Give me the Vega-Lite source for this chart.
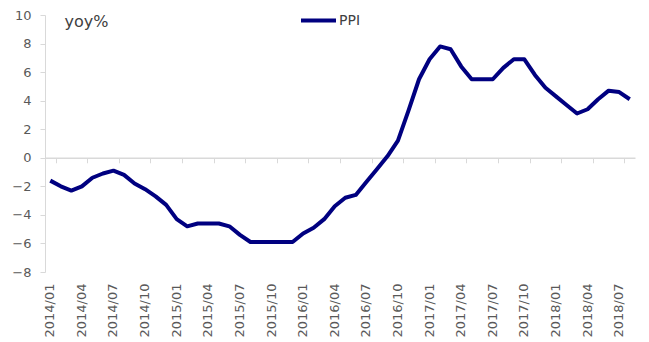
{
  "$schema": "https://vega.github.io/schema/vega-lite/v6.json",
  "autosize": "none",
  "width": 590,
  "height": 257,
  "padding": {"left": 45, "top": 15, "right": 14, "bottom": 70},
  "background": "white",
  "config": {
    "view": {"stroke": null},
    "font": "DejaVu Sans",
    "axis": {"labelFont": "DejaVu Sans", "titleFont": "DejaVu Sans"},
    "legend": {"labelFont": "DejaVu Sans"}
  },
  "data": {
    "values": [
      {"month": "2014/01", "series": "PPI", "value": -1.6},
      {"month": "2014/02", "series": "PPI", "value": -2.0},
      {"month": "2014/03", "series": "PPI", "value": -2.3},
      {"month": "2014/04", "series": "PPI", "value": -2.0},
      {"month": "2014/05", "series": "PPI", "value": -1.4},
      {"month": "2014/06", "series": "PPI", "value": -1.1},
      {"month": "2014/07", "series": "PPI", "value": -0.9},
      {"month": "2014/08", "series": "PPI", "value": -1.2},
      {"month": "2014/09", "series": "PPI", "value": -1.8},
      {"month": "2014/10", "series": "PPI", "value": -2.2},
      {"month": "2014/11", "series": "PPI", "value": -2.7},
      {"month": "2014/12", "series": "PPI", "value": -3.3},
      {"month": "2015/01", "series": "PPI", "value": -4.3},
      {"month": "2015/02", "series": "PPI", "value": -4.8},
      {"month": "2015/03", "series": "PPI", "value": -4.6},
      {"month": "2015/04", "series": "PPI", "value": -4.6},
      {"month": "2015/05", "series": "PPI", "value": -4.6},
      {"month": "2015/06", "series": "PPI", "value": -4.8},
      {"month": "2015/07", "series": "PPI", "value": -5.4},
      {"month": "2015/08", "series": "PPI", "value": -5.9},
      {"month": "2015/09", "series": "PPI", "value": -5.9},
      {"month": "2015/10", "series": "PPI", "value": -5.9},
      {"month": "2015/11", "series": "PPI", "value": -5.9},
      {"month": "2015/12", "series": "PPI", "value": -5.9},
      {"month": "2016/01", "series": "PPI", "value": -5.3},
      {"month": "2016/02", "series": "PPI", "value": -4.9},
      {"month": "2016/03", "series": "PPI", "value": -4.3},
      {"month": "2016/04", "series": "PPI", "value": -3.4},
      {"month": "2016/05", "series": "PPI", "value": -2.8},
      {"month": "2016/06", "series": "PPI", "value": -2.6},
      {"month": "2016/07", "series": "PPI", "value": -1.7},
      {"month": "2016/08", "series": "PPI", "value": -0.8},
      {"month": "2016/09", "series": "PPI", "value": 0.1},
      {"month": "2016/10", "series": "PPI", "value": 1.2},
      {"month": "2016/11", "series": "PPI", "value": 3.3},
      {"month": "2016/12", "series": "PPI", "value": 5.5},
      {"month": "2017/01", "series": "PPI", "value": 6.9},
      {"month": "2017/02", "series": "PPI", "value": 7.8},
      {"month": "2017/03", "series": "PPI", "value": 7.6},
      {"month": "2017/04", "series": "PPI", "value": 6.4},
      {"month": "2017/05", "series": "PPI", "value": 5.5},
      {"month": "2017/06", "series": "PPI", "value": 5.5},
      {"month": "2017/07", "series": "PPI", "value": 5.5},
      {"month": "2017/08", "series": "PPI", "value": 6.3},
      {"month": "2017/09", "series": "PPI", "value": 6.9},
      {"month": "2017/10", "series": "PPI", "value": 6.9},
      {"month": "2017/11", "series": "PPI", "value": 5.8},
      {"month": "2017/12", "series": "PPI", "value": 4.9},
      {"month": "2018/01", "series": "PPI", "value": 4.3},
      {"month": "2018/02", "series": "PPI", "value": 3.7},
      {"month": "2018/03", "series": "PPI", "value": 3.1},
      {"month": "2018/04", "series": "PPI", "value": 3.4},
      {"month": "2018/05", "series": "PPI", "value": 4.1},
      {"month": "2018/06", "series": "PPI", "value": 4.7},
      {"month": "2018/07", "series": "PPI", "value": 4.6},
      {"month": "2018/08", "series": "PPI", "value": 4.1}
    ]
  },
  "encoding": {
    "y": {
      "field": "value",
      "type": "quantitative",
      "scale": {"domain": [-8, 10], "nice": false, "zero": false},
      "axis": {
        "values": [-8, -6, -4, -2, 0, 2, 4, 6, 8, 10],
        "grid": false,
        "domainColor": "#d9d9d9",
        "tickColor": "#d9d9d9",
        "tickSize": 5,
        "labelPadding": 9,
        "labelFontSize": 13,
        "labelColor": "#595959",
        "title": "yoy%",
        "titleAngle": 0,
        "titleAlign": "left",
        "titleBaseline": "middle",
        "titleX": 19,
        "titleY": 6,
        "titleFontSize": 16,
        "titleFontWeight": "normal",
        "titleColor": "#404040"
      }
    }
  },
  "layer": [
    {
      "mark": {"type": "line", "strokeWidth": 4, "strokeJoin": "round"},
      "encoding": {
        "x": {
          "field": "month",
          "type": "ordinal",
          "bandPosition": 0.5,
          "scale": {"type": "band", "paddingInner": 0, "paddingOuter": 0},
          "axis": {
            "values": ["2014/01","2014/04","2014/07","2014/10","2015/01","2015/04","2015/07","2015/10","2016/01","2016/04","2016/07","2016/10","2017/01","2017/04","2017/07","2017/10","2018/01","2018/04","2018/07"],
            "domain": false,
            "ticks": false,
            "labelAngle": -90,
            "labelAlign": "right",
            "labelBaseline": "middle",
            "labelPadding": 11,
            "labelFontSize": 13,
            "labelColor": "#595959",
            "title": null
          }
        },
        "color": {
          "field": "series",
          "type": "nominal",
          "scale": {"range": ["#000080"]},
          "legend": {
            "orient": "none",
            "legendX": 254,
            "legendY": -14,
            "title": null,
            "symbolType": "stroke",
            "symbolSize": 1225,
            "symbolStrokeWidth": 4,
            "labelFontSize": 14,
            "labelColor": "#404040",
            "labelOffset": 1,
            "padding": 0
          }
        }
      }
    },
    {
      "mark": {"type": "line", "opacity": 0},
      "encoding": {
        "x": {
          "field": "month",
          "type": "ordinal",
          "bandPosition": 0.5,
          "scale": {"type": "band", "paddingInner": 0, "paddingOuter": 0},
          "axis": {
            "values": ["2014/01","2014/04","2014/07","2014/10","2015/01","2015/04","2015/07","2015/10","2016/01","2016/04","2016/07","2016/10","2017/01","2017/04","2017/07","2017/10","2018/01","2018/04","2018/07"],
            "orient": "bottom",
            "offset": -114.22,
            "domain": true,
            "domainColor": "#d9d9d9",
            "domainWidth": 1.5,
            "ticks": true,
            "tickBand": "extent",
            "tickColor": "#d9d9d9",
            "tickSize": 5,
            "labels": false,
            "title": null
          }
        }
      }
    }
  ],
  "resolve": {"axis": {"x": "independent"}}
}
